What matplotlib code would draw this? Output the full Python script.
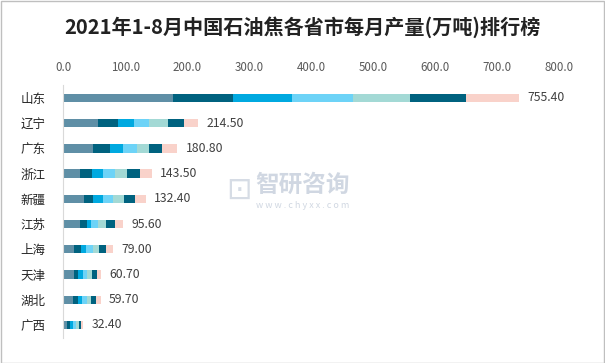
import matplotlib
matplotlib.use("Agg")
import matplotlib.pyplot as plt
from matplotlib.patches import Rectangle
from matplotlib.ticker import FormatStrFormatter

plt.rcParams['font.family'] = ['Noto Sans CJK SC', 'DejaVu Sans']

provinces = ["山东", "辽宁", "广东", "浙江", "新疆", "江苏", "上海", "天津", "湖北", "广西"]
totals = [755.40, 214.50, 180.80, 143.50, 132.40, 95.60, 79.00, 60.70, 59.70, 32.40]

# monthly segments (1-2月, 3月, 4月, 5月, 6月, 7月, 8月)
seg1 = [176.5, 55.5, 47.3, 26.9, 33.3, 26.9, 16.7, 16.7, 16.1, 6.3]
seg2 = [96.8, 32.3, 27.9, 19.9, 15.1, 10.8, 11.3, 6.5, 7.0, 5.2]
seg3 = [95.6, 25.8, 21.0, 17.7, 15.6, 7.0, 8.6, 8.1, 7.0, 4.2]
seg4 = [98.4, 25.2, 22.6, 18.8, 16.7, 11.3, 10.8, 7.5, 7.5, 4.7]
seg5 = [91.9, 29.7, 19.4, 19.4, 17.2, 12.4, 10.2, 7.0, 7.0, 4.2]
seg6 = [90.3, 26.3, 21.0, 21.0, 17.2, 15.1, 11.8, 8.1, 7.5, 4.2]
seg7 = [86.0, 22.1, 24.7, 18.8, 18.3, 12.9, 10.8, 7.0, 8.1, 3.6]
segments = [seg1, seg2, seg3, seg4, seg5, seg6, seg7]
colors = ["#5F8FA6", "#00627F", "#00A9E0", "#6DD3F7", "#A3D9D5", "#00627F", "#F9D2CA"]

xticks = [0, 100, 200, 300, 400, 500, 600, 700, 800]

fig = plt.figure(figsize=(6.05, 3.63), dpi=100)
fig.patch.set_facecolor("white")
fig.patches.append(Rectangle((0.001, 0.001), 0.997, 0.996, transform=fig.transFigure,
                             fill=False, edgecolor="#BFBFBF", linewidth=1.0))

ax = fig.add_axes([0.1046, 0.070, 0.8198, 0.6948])

y = list(range(len(provinces)))
left = [0.0] * len(provinces)
for vals, c in zip(segments, colors):
    ax.barh(y, vals, left=left, height=0.33, color=c, edgecolor="none")
    left = [l + v for l, v in zip(left, vals)]

for yi, end, tot in zip(y, left, totals):
    ax.annotate(f"{tot:.2f}", xy=(end, yi), xytext=(6, 0), textcoords="offset points",
                va="center", ha="left", fontsize=8.8, color="#404040")

ax.set_xlim(0, 800)
ax.set_ylim(len(provinces) - 0.5, -0.5)
ax.set_xticks(xticks)
ax.xaxis.set_major_formatter(FormatStrFormatter("%.1f"))
ax.xaxis.tick_top()
ax.tick_params(axis="x", length=0, pad=8, labelsize=8.3, labelcolor="#595959")
ax.set_yticks(y)
ax.set_yticklabels(provinces)
ax.tick_params(axis="y", length=0, pad=13, labelsize=9, labelcolor="#262626")
for s in ["top", "right", "bottom"]:
    ax.spines[s].set_visible(False)
ax.spines["left"].set_color("#D9D9D9")

fig.text(0.5, 0.925, "2021年1-8月中国石油焦各省市每月产量(万吨)排行榜",
         ha="center", va="center", fontsize=14.5, fontweight="bold", color="#222222")

# watermark
fig.text(0.50, 0.49, "智研咨询", ha="center", va="center", fontsize=17,
         color="#C5CEDB", alpha=0.8, fontweight="bold")
fig.text(0.50, 0.435, "w w w . c h y x x . c o m", ha="center", va="center", fontsize=6.5,
         color="#C5CEDB", alpha=0.8)
fig.text(0.395, 0.475, "⊡", ha="center", va="center", fontsize=22, color="#C5CEDB", alpha=0.7,
         family=["DejaVu Sans"])

fig.savefig("out.png", dpi=100, facecolor="white")
